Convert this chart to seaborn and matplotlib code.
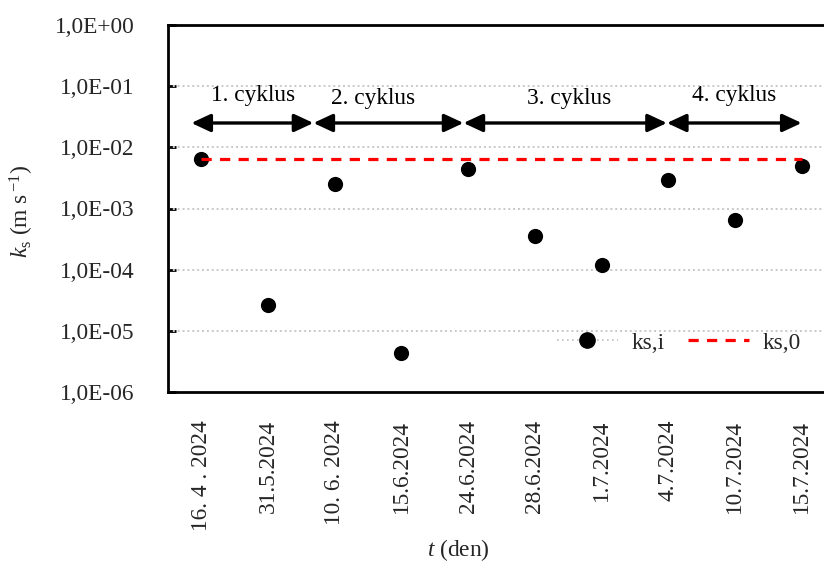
import numpy as np
import pandas as pd
import matplotlib
matplotlib.use("Agg")
import matplotlib.pyplot as plt
from matplotlib.lines import Line2D
from matplotlib.ticker import FixedLocator, FuncFormatter, NullLocator
import seaborn as sns

# Measurement dates and saturated hydraulic conductivity values
dates = ["16. 4 . 2024", "31.5.2024", "10. 6. 2024", "15.6.2024", "24.6.2024",
         "28.6.2024", "1.7.2024", "4.7.2024", "10.7.2024", "15.7.2024"]
ks_i = [6.5e-3, 2.6e-5, 2.5e-3, 4.4e-6, 4.5e-3, 3.5e-4, 1.2e-4, 2.9e-3, 6.4e-4, 4.9e-3]
ks_0 = [6.5e-3] * len(dates)

# Measurement cycles: (label, start index, end index)
cycle_labels = ["1. cyklus", "2. cyklus", "3. cyklus", "4. cyklus"]
cycle_bounds = [(-0.15, 1.68), (1.68, 3.93), (3.93, 6.98), (6.98, 9.0)]
cycle_text_pos = [(0.78, 0.071), (2.58, 0.062), (5.51, 0.063), (7.99, 0.071)]
arrow_y = 0.025

ytick_vals = [1e0, 1e-1, 1e-2, 1e-3, 1e-4, 1e-5, 1e-6]

sns.set_theme(style="white")
serif = ["Liberation Serif", "DejaVu Serif"]
plt.rcParams["font.family"] = serif
plt.rcParams["mathtext.fontset"] = "custom"
plt.rcParams["mathtext.rm"] = "Liberation Serif"
plt.rcParams["mathtext.it"] = "Liberation Serif:italic"

df = pd.DataFrame({"date": dates, "ks_i": ks_i, "ks_0": ks_0})
df["pos"] = np.arange(len(dates))

W, H = 824, 567
fig = plt.figure(figsize=(W / 100, H / 100), dpi=100)
ax = fig.add_axes([168 / W, (H - 392) / H, (835 - 168) / W, (392 - 25) / H])

FS = 16.8

sns.scatterplot(data=df, x="pos", y="ks_i", ax=ax, color="black", s=120,
                edgecolor="black", linewidth=0, zorder=3, legend=False)
sns.lineplot(data=df, x="pos", y="ks_0", ax=ax, color="#ff0000", lw=2.3,
             dashes=False, zorder=4, legend=False)
ax.lines[-1].set_dashes((3.2, 2.6))

ax.set_yscale("log")
ax.set_ylim(1e-6, 1e0)
ax.set_xlim(-0.5, 9.5)

ax.yaxis.set_major_locator(FixedLocator(ytick_vals))
ax.yaxis.set_minor_locator(NullLocator())
ax.yaxis.set_major_formatter(FuncFormatter(
    lambda v, p: "1,0E" + ("+" if v >= 1 else "-") + f"{abs(int(round(np.log10(v)))):02d}"))

ax.set_xticks(df["pos"])
ax.set_xticklabels(dates, rotation=90, fontsize=FS)
ax.tick_params(axis="x", length=0, pad=20)
ax.tick_params(axis="y", direction="in", length=6, width=2, color="black",
               pad=24, labelsize=FS, left=True)

# dotted decade gridlines
for v in ytick_vals[1:-1]:
    ax.axhline(v, color="#c8c8c8", lw=1.4, ls=(0, (1, 1.5)), zorder=1)

for side in ["left", "top", "bottom"]:
    ax.spines[side].set_visible(True)
    ax.spines[side].set_color("black")
    ax.spines[side].set_linewidth(2)
ax.spines["right"].set_visible(False)

# cycle arrows and labels
for (x0, x1) in cycle_bounds:
    ax.annotate("", xy=(x1, arrow_y), xytext=(x0, arrow_y),
                arrowprops=dict(arrowstyle="<|-|>,head_length=0.58,head_width=0.27",
                                color="black", lw=2.4,
                                mutation_scale=20, shrinkA=0, shrinkB=0),
                zorder=5)
for lbl, (tx, ty) in zip(cycle_labels, cycle_text_pos):
    ax.text(tx, ty, lbl, ha="center", va="center", fontsize=FS, color="black")

ax.set_xlabel("")
ax.set_ylabel("")
fig.text(22 / W, 1 - 211 / H, r"$\mathit{k}_{\mathrm{s}}$ (m s$^{\,\mathrm{-1}}$)",
         rotation=90, ha="center", va="center", fontsize=FS)
fig.text(458 / W, 1 - 550 / H, r"$\mathit{t}$ (den)", ha="center", va="center",
         fontsize=FS)

handles = [
    Line2D([], [], color="#bfbfbf", lw=1.2, ls=(0, (1, 2)), marker="o",
           markersize=11, markerfacecolor="black", markeredgecolor="black"),
    Line2D([], [], color="#ff0000", lw=2.3, dashes=(3.2, 2.6)),
]
ax.legend(handles, ["ks,i", "ks,0"], ncol=2, frameon=False, fontsize=FS,
          loc="center left", bbox_to_anchor=(557 / W, 1 - 343 / H),
          bbox_transform=fig.transFigure, borderpad=0, borderaxespad=0,
          handlelength=2.6, handletextpad=0.6, columnspacing=1.0)

fig.savefig("out.png", dpi=100)
